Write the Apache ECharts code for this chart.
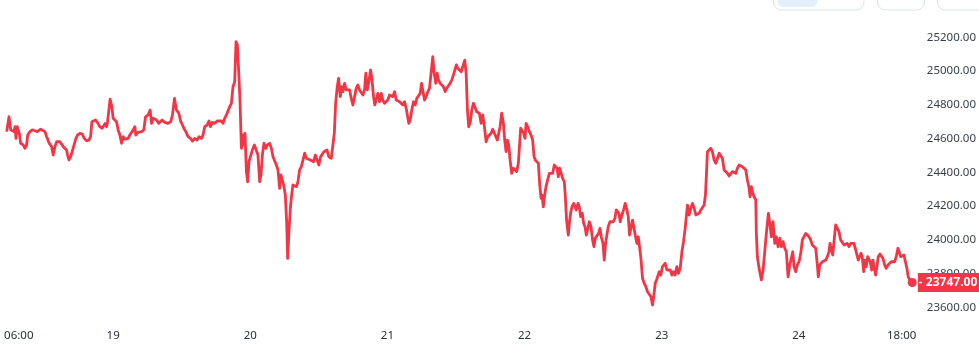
<!DOCTYPE html>
<html>
<head>
<meta charset="utf-8">
<script src="https://cdn.jsdelivr.net/npm/echarts@6/dist/echarts.min.js"></script>
<style>
html,body{margin:0;padding:0;background:#fff;}
#chart{width:979px;height:361px;}
</style>
</head>
<body>
<div id="chart"></div>
<script>
// hours since day 18, 00:00
const times = [
5.37,5.77,6.07,6.41,6.64,6.82,6.99,7.22,7.39,7.57,
7.81,8.04,8.27,8.56,8.86,9.04,9.44,9.84,10.31,10.71,
11.06,11.31,11.66,12.06,12.36,12.81,13.23,13.51,13.81,14.11,
14.39,14.68,14.98,15.26,15.56,15.85,16.03,16.26,16.55,16.83,
17.18,17.48,17.78,18.18,18.58,18.93,19.35,19.75,20.05,20.28,
20.63,20.92,21.27,21.67,22.08,22.43,22.60,22.85,23.02,23.25,
23.47,23.77,24.00,24.35,24.59,24.87,25.17,25.47,25.75,26.04,
26.34,26.62,26.92,27.27,27.49,27.79,27.97,28.26,28.54,28.96,
29.37,29.66,30.12,30.47,30.71,30.99,31.29,31.59,31.99,32.28,32.56,
33.04,33.61,34.08,34.38,34.73,35.08,35.48,35.83,36.13,36.36,
36.71,37.11,37.53,37.88,38.28,38.68,39.03,39.45,39.73,40.03,
40.43,40.78,41.02,41.37,41.78,42.18,42.53,42.95,43.23,43.52,
43.82,44.10,44.40,44.69,44.97,45.27,45.50,45.74,45.97,46.20,
46.44,46.67,46.84,47.07,47.32,47.54,47.77,48.07,48.36,48.71,
49.06,49.34,49.64,49.87,50.11,50.39,50.69,50.99,51.39,51.69,
51.97,52.26,52.56,52.84,53.14,53.36,53.61,53.89,54.13,54.36,
54.54,54.76,55.01,55.23,55.46,55.76,56.06,56.34,56.63,56.93,
57.21,57.51,57.80,58.15,58.50,58.85,59.08,59.38,59.66,60.01,
60.30,60.60,60.88,
61.00,61.40,61.75,62.17,62.45,62.70,62.93,63.22,63.45,63.75,
63.97,64.20,64.50,64.80,65.08,65.37,65.67,65.95,66.25,66.54,
66.82,67.12,67.42,67.70,67.99,68.22,68.47,68.75,69.04,69.27,
69.57,69.79,70.09,70.32,70.62,70.91,71.19,71.49,71.79,72.07,
72.36,72.66,72.94,73.24,73.53,73.81,74.11,74.41,74.69,74.99,
75.28,75.51,75.74,75.98,76.26,76.56,76.86,77.14,77.43,77.73,
77.96,78.18,78.48,78.78,79.06,79.36,79.65,79.93,80.18,80.46,
80.70,80.93,81.23,81.51,81.80,82.10,82.38,82.68,82.97,83.25,
83.55,83.78,84.07,84.30,84.60,84.90,85.18,85.53,85.77,86.00,
86.22,86.52,86.75,87.05,87.34,87.62,87.92,
88.09,88.39,88.67,88.97,89.27,89.55,89.84,90.14,90.42,90.72,
91.01,91.24,91.47,91.71,91.99,92.29,92.52,92.76,92.99,93.22,
93.46,93.74,94.04,94.33,94.61,94.91,95.14,95.31,95.56,95.84,
96.08,96.26,96.54,96.83,97.13,97.41,97.66,97.88,98.18,98.41,
98.63,98.88,99.05,99.28,99.51,99.75,100.03,100.33,100.63,100.91,
101.20,101.43,101.68,101.90,102.13,102.38,102.66,102.95,103.13,103.35,
103.65,103.83,104.05,104.30,104.58,104.82,105.05,105.35,105.57,105.80,
106.10,106.33,106.57,106.80,107.02,107.32,107.62,107.90,108.14,108.37,
108.67,108.95,109.19,109.42,109.72,109.94,110.17,110.42,110.64,110.94,
111.22,111.52,111.81,112.04,112.27,112.51,112.74,113.04,113.32,113.61,
113.91,114.14,114.37,114.61,114.89,115.19,115.41,115.66,115.89,116.11,
116.36,116.64,116.94,117.23,117.51,117.81,118.11,118.39,118.63,118.86,
119.09,119.33,119.56,119.85,120.13,120.43,120.61,120.90,121.18,121.48,
121.78,122.06,122.35,122.65,122.93,123.23,123.53,123.81,124.10,124.50,
124.80,125.10,125.38,125.68,125.97,126.25,126.55,126.85,127.13,127.42,
127.65,127.83,128.00,128.30,128.59,128.87,129.17,129.47,129.75,130.05,
130.34,130.62,130.92,131.22,131.50,131.79,132.09,132.37,132.67,132.96,
133.24,133.54,133.84,134.12,134.42,134.71,134.99,135.29,135.46,135.69,
135.94,136.16,136.46,
136.56,136.74,137.04,137.44,137.74,138.03,138.31,138.66,138.91,139.19,
139.48,139.78,140.06,140.36,140.66,140.94,141.23,141.53,141.81,142.11,
142.40,142.68,142.93,143.16,143.45,143.73,144.03,144.33,144.61,144.90,
145.20,145.48,145.78,146.07,146.35,146.65,146.95,147.23,147.40,147.65,
147.88,148.10,148.40,148.70,148.98,149.27,149.45,149.68,149.92,150.15,
150.44,150.72,151.02,151.32,151.60,151.90,152.19,152.47,152.77,153.07,
153.35,153.64,153.94,154.22,154.40,154.64,154.87,155.09,155.34,155.57,
155.79,156.04,156.27,156.49,156.74,156.96,157.19,157.44,157.66,157.89,
158.19,158.49,158.71,159.01,159.29,159.59,159.88,160.16,160.46,160.76,
161.04,161.33,161.56,161.81,162.09,162.38,162.68,162.91,163.13,163.43,
163.83
];

const prices = [
24641,24729,24651,24661,24641,24670,24601,24670,24680,24631,
24572,24581,24562,24542,24562,24621,24641,24651,24646,24641,
24635,24655,24655,24641,24611,24572,24552,24502,24552,24581,
24591,24581,24572,24552,24542,24532,24502,24473,24492,24522,
24532,24601,24621,24631,24627,24601,24587,24591,24611,24700,
24690,24710,24694,24670,24661,24651,24690,24670,24700,24769,
24833,24789,24720,24720,24700,24651,24621,24572,24611,24596,
24607,24601,24621,24631,24651,24670,24621,24635,24641,24641,
24651,24729,24740,24769,24690,24720,24714,24710,24690,24700,24710,
24696,24690,24700,24740,24838,24769,24750,24700,24680,24661,
24641,24611,24601,24585,24601,24591,24611,24601,24621,24670,
24680,24704,24670,24696,24690,24704,24696,24704,24690,24720,
24740,24750,24789,24809,24907,24937,25174,25154,24996,24818,
24542,24621,24562,24631,24404,24344,24463,24473,24532,24562,
24552,24502,24344,24384,24502,24572,24542,24562,24572,24542,
24492,24483,24443,24414,24305,24384,24354,24315,24265,24107,
23890,24048,24187,24265,24325,24335,24315,24344,24414,24433,
24443,24513,24483,24483,24473,24483,24463,24502,24513,24443,
24492,24483,24522,
24513,24532,24492,24483,24492,24631,24809,24907,24957,24848,
24907,24878,24927,24888,24898,24888,24838,24799,24848,24898,
24917,24888,24878,24858,24888,24987,24888,24937,25006,24957,
24848,24799,24809,24868,24818,24868,24828,24809,24818,24828,
24858,24868,24848,24878,24828,24818,24818,24809,24799,24818,
24779,24769,24690,24710,24769,24818,24799,24838,24828,24868,
24927,24888,24828,24848,24878,24898,24907,25085,24987,24927,
24987,24947,24927,24927,24907,24878,24898,24907,24927,24947,
24977,24966,25036,25016,25006,24996,25026,25065,24987,24769,
24670,24700,24769,24809,24799,24759,24769,
24750,24690,24740,24670,24581,24611,24611,24631,24655,24631,
24621,24591,24631,24670,24750,24690,24591,24522,24591,24562,
24473,24394,24424,24414,24404,24453,24572,24661,24661,24631,
24601,24690,24670,24641,24621,24591,24492,24473,24473,24453,
24335,24246,24265,24196,24265,24315,24354,24394,24384,24394,
24443,24453,24424,24374,24424,24414,24364,24344,24255,24117,
24028,24098,24157,24196,24216,24226,24177,24216,24196,24137,
24157,24098,24078,24028,24058,24107,24078,23999,23959,24009,
24018,24038,24068,24018,23979,23880,23979,23989,24078,24107,
24117,24107,24127,24177,24187,24157,24107,24147,24177,24216,
24177,24137,24028,24068,24117,24117,24018,23979,24018,23959,
23890,23772,23742,23722,23692,23702,23663,23614,23673,23742,
23762,23752,23811,23791,23841,23831,23861,23821,23811,23821,
23791,23811,23791,23841,23801,23831,23929,23989,24068,24206,
24147,24187,24216,24187,24147,24147,24157,24177,24187,24206,
24265,24394,24522,24532,24542,24522,24473,24453,24463,24513,
24522,24483,24414,24404,24394,24378,24384,24404,24414,24394,
24424,24443,24453,24433,24443,24414,24354,24305,24255,24315,
24276,24255,24236,
24038,23900,23831,23762,23821,23831,24038,24157,24098,24018,
24107,23979,24018,23959,24009,23959,23989,23950,23929,23781,
23851,23890,23929,23841,23811,23851,23870,23920,23999,23989,
24038,24028,24018,23999,23969,23959,23950,23851,23781,23851,
23841,23870,23880,23880,23900,23929,23979,23940,23910,23989,
24088,24078,24048,23999,23999,23969,23959,23979,23959,23979,
23989,23979,23940,23929,23880,23900,23920,23900,23811,23880,
23841,23900,23910,23870,23821,23880,23831,23791,23841,23900,
23916,23910,23890,23851,23831,23851,23861,23870,23880,23870,
23900,23950,23929,23900,23890,23910,23900,23831,23781,23762,
23747
];

const xTickHours = [6, 24, 48, 72, 96, 120, 144, 162];
const xTickLabels = ['06:00', '19', '20', '21', '22', '23', '24', '18:00'];
const yTickValues = [23600, 23800, 24000, 24200, 24400, 24600, 24800, 25000, 25200];

const RED = '#f23645';
const lineData = times.map((t, i) => [t, prices[i]]);
const lastPoint = lineData[lineData.length - 1];

const chart = echarts.init(document.getElementById('chart'), null, {renderer: 'canvas'});
chart.setOption({
  animation: false,
  backgroundColor: '#ffffff',
  grid: {left: 0, right: 59, top: 20.4, bottom: 36.8, containLabel: false},
  xAxis: {
    type: 'value',
    min: 4.195,
    max: 165.0,
    axisLine: {show: false},
    axisTick: {show: false},
    splitLine: {show: false},
    axisLabel: {
      customValues: xTickHours,
      margin: 6,
      color: '#2a2e39',
      fontSize: 11.5,
      fontFamily: 'Noto Sans',
      formatter: function (v) {
        const i = xTickHours.indexOf(v);
        if (i < 0) return '';
        if (i === 0) return '{s|' + xTickLabels[i] + '}';
        return xTickLabels[i];
      },
      rich: {s: {padding: [0, 0, 0, 17], color: '#2a2e39', fontSize: 11.5, fontFamily: 'Noto Sans'}}
    }
  },
  yAxis: {
    type: 'value',
    position: 'right',
    min: 23500,
    max: 25300,
    axisLine: {show: false},
    axisTick: {show: false},
    splitLine: {show: false},
    axisLabel: {
      customValues: yTickValues,
      margin: 8,
      color: '#3a3e49',
      fontSize: 11.5,
      fontFamily: 'Noto Sans',
      formatter: function (v) { return v.toFixed(2); }
    }
  },
  graphic: [
    {type: 'rect', shape: {x: 773.5, y: -12, width: 90.5, height: 22, r: 8}, style: {fill: '#fff', stroke: '#e0e3eb', lineWidth: 1}},
    {type: 'rect', shape: {x: 777.5, y: -12, width: 40, height: 19, r: 6}, style: {fill: '#e3effd'}},
    {type: 'rect', shape: {x: 877.5, y: -12, width: 47, height: 22, r: 8}, style: {fill: '#fff', stroke: '#e0e3eb', lineWidth: 1}},
    {type: 'rect', shape: {x: 937.5, y: -12, width: 60, height: 22, r: 8}, style: {fill: '#fff', stroke: '#e0e3eb', lineWidth: 1}}
  ],
  series: [
    {
      type: 'line',
      data: lineData,
      showSymbol: false,
      smooth: false,
      lineStyle: {color: RED, width: 2.8, join: 'round'},
      itemStyle: {color: RED},
      z: 3,
      markLine: {
        silent: true,
        symbol: ['none', 'none'],
        lineStyle: {color: 'rgba(0,0,0,0)', width: 0, type: 'solid'},
        data: [{yAxis: lastPoint[1]}],
        label: {
          show: true,
          position: 'end',
          distance: -1,
          formatter: function (p) { return '{d| }{v|' + Number(p.value).toFixed(2) + '}'; },
          backgroundColor: RED,
          padding: [3, 3, 3, 1],
          rich: {
            d: {width: 3, height: 1.5, backgroundColor: '#ffffff'},
            v: {color: '#ffffff', fontWeight: 'bold', fontSize: 12, fontFamily: 'Noto Sans', padding: [0, 0, 0, 4], lineHeight: 13}
          }
        }
      }
    },
    {
      type: 'scatter',
      data: [lastPoint],
      symbol: 'circle',
      symbolSize: 9,
      itemStyle: {color: RED, opacity: 1},
      z: 4
    }
  ]
});
</script>
</body>
</html>
